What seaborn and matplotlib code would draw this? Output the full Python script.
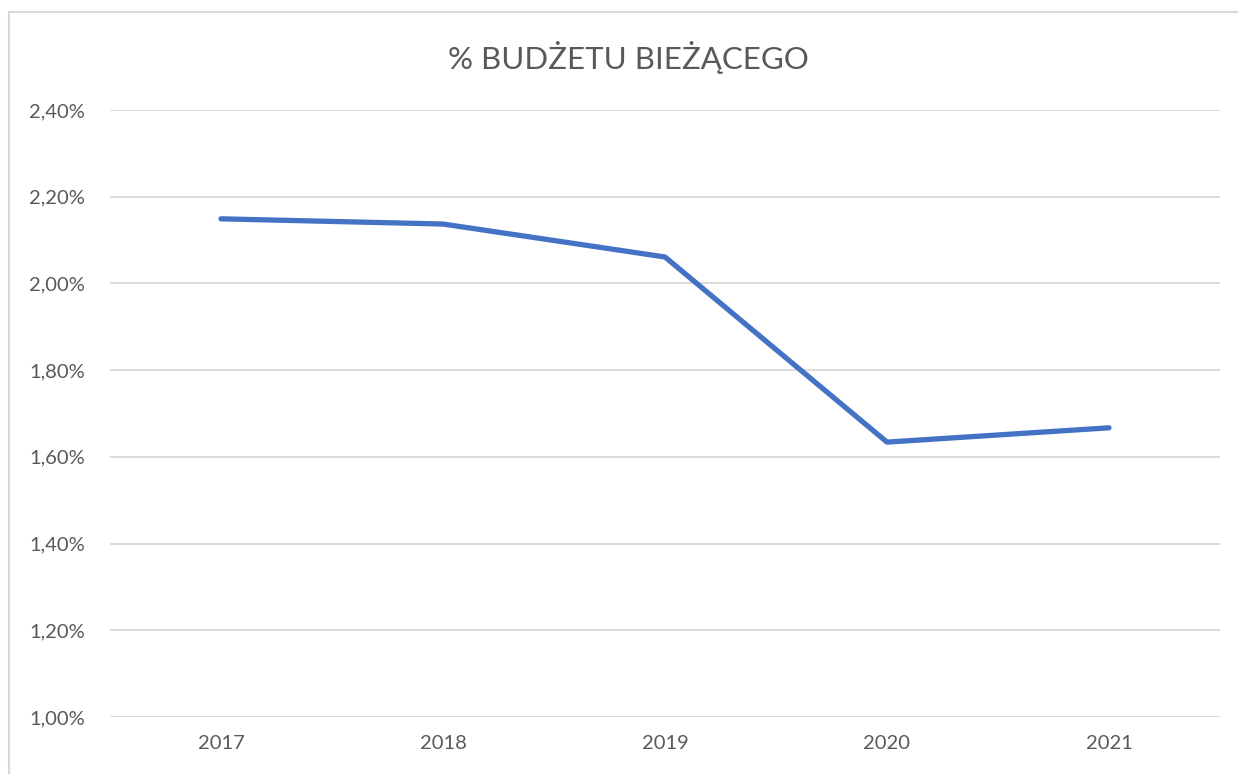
import numpy as np
import pandas as pd
import matplotlib
matplotlib.use('Agg')
import matplotlib.pyplot as plt
import seaborn as sns
from matplotlib.ticker import FuncFormatter
from matplotlib.lines import Line2D

# dane z wykresu
years = ['2017', '2018', '2019', '2020', '2021']
share = [2.149, 2.137, 2.061, 1.634, 1.667]
title = '% BUDŻETU BIEŻĄCEGO'

sns.set_style('white')
plt.rcParams['font.family'] = ['Lato', 'DejaVu Sans']

text_color = '#595959'
grid_color = '#D9D9D9'
line_color = '#4472C4'

df = pd.DataFrame({'rok': years, 'udzial': share})

fig = plt.figure(figsize=(12.38, 7.74), dpi=100)
ax = fig.add_axes([110 / 1238, 1 - 717 / 774, 1110 / 1238, 607 / 774])

sns.lineplot(data=df, x='rok', y='udzial', ax=ax, color=line_color,
             linewidth=3.8, sort=False, solid_capstyle='round', zorder=3)

ax.set_xlim(-0.5, 4.5)
ax.set_ylim(1.0, 2.4)
ax.set_yticks(np.arange(1.0, 2.41, 0.2))
ax.yaxis.set_major_formatter(FuncFormatter(lambda v, p: f'{v:.2f}%'.replace('.', ',')))

ax.grid(axis='y', color=grid_color, linewidth=1.4)
ax.grid(axis='x', visible=False)
for s in ax.spines.values():
    s.set_visible(False)

ax.tick_params(axis='both', length=0, labelsize=14.5, colors=text_color)
ax.tick_params(axis='y', pad=18)
ax.tick_params(axis='x', pad=13)
ax.set_xlabel('')
ax.set_ylabel('')

fig.text(628 / 1238, 1 - 57 / 774, title, ha='center', va='center',
         fontsize=22.5, color=text_color)

# ramka wykresu (ucięta z prawej i od dołu)
fig.add_artist(Line2D([9 / 1238, 9 / 1238], [0, 1 - 12 / 774], color=grid_color, lw=1.5))
fig.add_artist(Line2D([9 / 1238, 1], [1 - 12 / 774, 1 - 12 / 774], color=grid_color, lw=1.5))

fig.savefig('out.png', dpi=100, facecolor='white')
